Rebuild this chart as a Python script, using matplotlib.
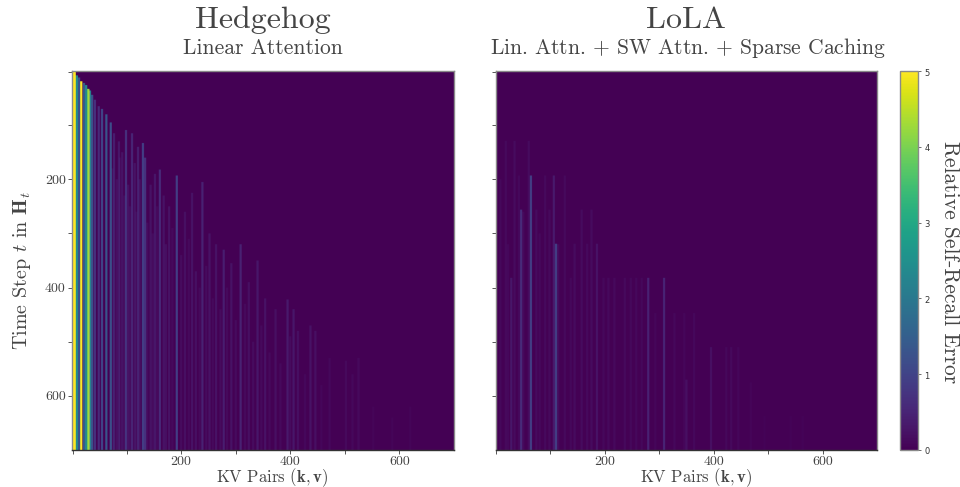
import numpy as np
import matplotlib
matplotlib.use("Agg")
import matplotlib.pyplot as plt

plt.rcParams["font.family"] = ["cmr10", "DejaVu Serif"]
plt.rcParams["mathtext.fontset"] = "cm"
plt.rcParams["axes.unicode_minus"] = False
plt.rcParams["axes.formatter.use_mathtext"] = True

# stripes: KV pair, step where it starts, error
hedgehog_kv = [1, 3, 7, 11, 15, 20, 24, 28, 31, 35, 40, 47, 53, 61, 69, 75, 84, 90, 97, 108,
               113, 119, 128, 132, 142, 150, 159, 166, 176, 190, 205, 218, 237, 250, 262, 276, 290, 307, 322,
               338, 352, 371, 393, 404, 412, 435, 444, 470, 500, 512, 523, 550, 585, 618,
               72, 80, 86, 94, 101, 104, 116, 122, 136, 146, 154, 170, 182, 198, 212, 225, 232, 244, 256, 270,
               282, 298, 315, 330, 345, 360, 380, 398, 425, 455]
hedgehog_start = [0, 0, 8, 12, 19, 22, 26, 33, 36, 44, 53, 65, 70, 80, 95, 115, 130, 150, 109, 115,
                  170, 140, 133, 160, 210, 190, 182, 230, 250, 193, 260, 225, 205, 300, 320, 330, 355, 320, 390,
                  350, 420, 440, 422, 440, 480, 470, 480, 530, 535, 560, 530, 620, 640, 620,
                  180, 200, 160, 230, 210, 250, 260, 200, 280, 300, 250, 320, 290, 340, 310, 370, 400, 360, 420,
                  440, 400, 460, 430, 500, 470, 520, 540, 490, 560, 580]
hedgehog_err = [5.0, 5.0, 2.4, 1.2, 5.0, 1.4, 2.4, 4.2, 2.2, 1.2, 0.7, 0.6, 1.0, 1.3, 1.2, 0.4,
                0.3, 0.25, 0.7, 0.5, 0.25, 0.4, 0.9, 0.7, 0.25, 0.3, 0.6, 0.25, 0.25, 0.9, 0.2, 0.25, 0.45, 0.25,
                0.25, 0.4, 0.25, 0.45, 0.2, 0.3, 0.25, 0.2, 0.35, 0.3, 0.2, 0.25, 0.2, 0.1, 0.12, 0.1, 0.12, 0.06,
                0.06, 0.06,
                0.15, 0.2, 0.12, 0.15, 0.2, 0.15, 0.12, 0.2, 0.15, 0.15, 0.12, 0.2, 0.12, 0.15, 0.12, 0.2, 0.12,
                0.15, 0.12, 0.15, 0.12, 0.15, 0.12, 0.15, 0.12, 0.12, 0.12, 0.15, 0.1, 0.08]

lola_kv = [16, 26, 32, 40, 44, 58, 62, 72, 88, 104, 108, 124, 142, 155, 173, 183, 204, 234, 255, 277, 306, 325,
           343, 347, 361, 392, 420, 429, 442, 465, 490, 538, 560,
           6, 20, 48, 78, 96, 112, 135, 165, 195, 215, 245, 265, 290]
lola_start = [129, 382, 129, 193, 256, 129, 193, 256, 193, 193, 319, 193, 319, 256, 256, 319, 382, 382, 382, 382,
              382, 447, 447, 570, 447, 510, 510, 510, 510, 575, 637, 637, 637,
              200, 320, 260, 300, 256, 320, 382, 319, 382, 382, 382, 382, 447]
lola_err = [0.12, 0.3, 0.15, 0.1, 0.6, 0.15, 0.9, 0.15, 0.12, 0.35, 0.9, 0.12, 0.15, 0.15, 0.15, 0.25, 0.12, 0.12,
            0.1, 0.45, 0.5, 0.1, 0.08, 0.2, 0.1, 0.2, 0.1, 0.12, 0.08, 0.06, 0.05, 0.05, 0.05,
            0.1, 0.1, 0.12, 0.1, 0.12, 0.15, 0.1, 0.12, 0.1, 0.12, 0.1, 0.1, 0.08]

x_ticks = [1, 100, 200, 300, 400, 500, 600]
x_labels = ["", "", "200", "", "400", "", "600"]
y_ticks = [1, 100, 200, 300, 400, 500, 600]
y_labels = ["", "", "200", "", "400", "", "600"]
cbar_ticks = [0, 1, 2, 3, 4, 5]

N_STEPS = 700
TEXT = "#444444"
EDGE = "#8a8a8a"


def build_matrix(kv, start, err):
    m = np.zeros((N_STEPS, N_STEPS))
    for k, s, e in zip(kv, start, err):
        m[s:, k:k + 4] += e
    return m


def style_panel(ax):
    ax.set_xticks(x_ticks)
    ax.set_xticklabels(x_labels)
    ax.set_yticks(y_ticks)
    ax.tick_params(length=3, width=0.7, color="#555555", labelcolor=TEXT, labelsize=10, pad=1.5)
    for sp in ax.spines.values():
        sp.set_color(EDGE)
        sp.set_linewidth(1.0)
    ax.spines["bottom"].set_color("#333333")


W, H = 960, 487
fig = plt.figure(figsize=(W / 100, H / 100), dpi=100)


def pos(x0, y0, x1, y1):
    return [x0 / W, 1 - y1 / H, (x1 - x0) / W, (y1 - y0) / H]


ax1 = fig.add_axes(pos(72, 71, 454, 450))
ax2 = fig.add_axes(pos(495.5, 71, 877, 450))
cax = fig.add_axes(pos(900, 71, 918, 450))

kw = dict(cmap="viridis", vmin=0, vmax=5, aspect="auto", extent=(0, N_STEPS, N_STEPS, 0))
im = ax1.imshow(build_matrix(hedgehog_kv, hedgehog_start, hedgehog_err), **kw)
ax2.imshow(build_matrix(lola_kv, lola_start, lola_err), **kw)

style_panel(ax1)
style_panel(ax2)
ax1.set_yticklabels(y_labels)
ax2.set_yticklabels([])

cb = fig.colorbar(im, cax=cax)
cb.set_ticks(cbar_ticks)
cb.ax.tick_params(length=2, width=0.6, color="#555555", labelsize=6, labelcolor="#333333", pad=2)
for lab in cb.ax.get_yticklabels():
    lab.set_family("DejaVu Sans")
cb.outline.set_edgecolor(EDGE)
cb.outline.set_linewidth(1.0)

fig.text(263 / W, 1 - 20 / H, "Hedgehog", color=TEXT, fontsize=23, ha="center", va="center")
fig.text(263 / W, 1 - 48 / H, "Linear Attention", color=TEXT, fontsize=15.5, ha="center", va="center")
fig.text(686 / W, 1 - 20 / H, "LoLA", color=TEXT, fontsize=23, ha="center", va="center")
fig.text(687.5 / W, 1 - 48 / H, r"Lin. Attn. $+$ SW Attn. $+$ Sparse Caching", color=TEXT, fontsize=15.5,
         ha="center", va="center")
xlabel = r"KV Pairs $(\mathbf{k},\mathbf{v})$"
fig.text(272 / W, 1 - 477.5 / H, xlabel, color=TEXT, fontsize=12, ha="center", va="center")
fig.text(696 / W, 1 - 477.5 / H, xlabel, color=TEXT, fontsize=12, ha="center", va="center")
fig.text(22 / W, 1 - 270 / H, r"Time Step $t$ in $\mathbf{H}_t$", color=TEXT, fontsize=14.5, rotation=90,
         ha="center", va="center")
fig.text(950 / W, 1 - 262 / H, "Relative Self-Recall Error", color=TEXT, fontsize=15.5, rotation=270,
         ha="center", va="center")

fig.savefig("out.png", dpi=100)
